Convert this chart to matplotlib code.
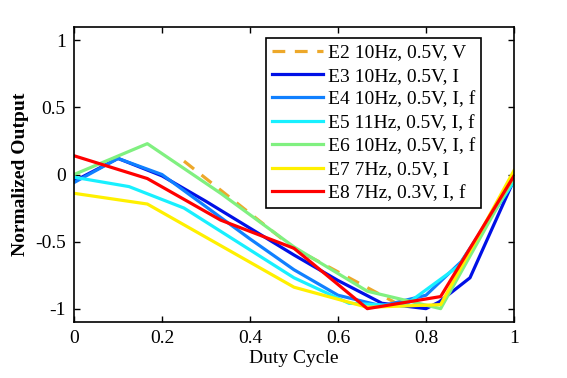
import matplotlib
matplotlib.use("Agg")
import matplotlib.pyplot as plt

plt.rcParams['font.family'] = ['Liberation Serif', 'DejaVu Serif']

# duty cycle samples and normalized outputs
x_e2 = [0.25, 0.5, 0.75]
y_e2 = [0.10, -0.55, -0.99]

x_e3 = [0, 0.1, 0.2, 0.3, 0.4, 0.5, 0.6, 0.7, 0.8, 0.83, 0.9, 1.0]
y_e3 = [-0.05, 0.12, -0.01, -0.2, -0.4, -0.6, -0.79, -0.96, -1.0, -0.95, -0.77, -0.04]

x_e4 = [0, 0.1, 0.2, 0.3, 0.4, 0.5, 0.6, 0.7, 0.8, 0.88, 1.0]
y_e4 = [-0.06, 0.12, 0.0, -0.24, -0.48, -0.71, -0.9, -0.98, -0.9, -0.65, -0.05]

x_e5 = [0, 0.125, 0.25, 0.375, 0.5, 0.625, 0.75, 0.875, 1.0]
y_e5 = [-0.02, -0.09, -0.25, -0.51, -0.77, -0.96, -0.98, -0.68, -0.05]

x_e6 = [0, 1/6, 1/3, 1/2, 2/3, 5/6, 1.0]
y_e6 = [0.0, 0.23, -0.14, -0.54, -0.87, -1.0, -0.02]

x_e7 = [0, 1/6, 1/3, 1/2, 2/3, 5/6, 1.0]
y_e7 = [-0.14, -0.22, -0.53, -0.84, -0.99, -0.97, 0.03]

x_e8 = [0, 1/6, 1/3, 1/2, 2/3, 5/6, 1.0]
y_e8 = [0.14, -0.03, -0.34, -0.55, -1.0, -0.91, -0.01]

labels = ['E2 10Hz, 0.5V, V', 'E3 10Hz, 0.5V, I', 'E4 10Hz, 0.5V, I, f',
          'E5 11Hz, 0.5V, I, f', 'E6 10Hz, 0.5V, I, f', 'E7 7Hz, 0.5V, I',
          'E8 7Hz, 0.3V, I, f']

fig = plt.figure(figsize=(5.67, 3.78), dpi=100)
ax = fig.add_axes([0.1305, 0.148, 0.776, 0.7806])

lw = 2.3
ax.plot(x_e2, y_e2, '--', color='#EDA82A', lw=lw, dashes=(4, 3), label=labels[0])
ax.plot(x_e3, y_e3, color='#0010E6', lw=lw, label=labels[1])
ax.plot(x_e4, y_e4, color='#1080FF', lw=lw, label=labels[2])
ax.plot(x_e5, y_e5, color='#18F0FF', lw=lw, label=labels[3])
ax.plot(x_e6, y_e6, color='#80F080', lw=lw, label=labels[4])
ax.plot(x_e7, y_e7, color='#FFF000', lw=lw, label=labels[5])
ax.plot(x_e8, y_e8, color='#FF0000', lw=lw, label=labels[6])

ax.set_xlim(0, 1)
ax.set_ylim(-1.1, 1.1)
ax.set_xticks([0, 0.2, 0.4, 0.6, 0.8, 1])
ax.set_xticklabels(['0', '0.2', '0.4', '0.6', '0.8', '1'])
ax.set_yticks([-1, -0.5, 0, 0.5, 1])
ax.set_yticklabels(['-1', '-0.5', '0', '0.5', '1'])
ax.tick_params(direction='in', top=True, right=True, labelsize=14, length=4, width=1, pad=6)
for s in ax.spines.values():
    s.set_linewidth(1.2)

ax.set_xlabel('Duty Cycle', fontsize=14, labelpad=2)
ax.set_ylabel('Normalized Output', fontsize=14, fontweight='bold', labelpad=4)

leg = ax.legend(loc='upper right', bbox_to_anchor=(0.926, 0.963), fontsize=14,
                fancybox=False, framealpha=1, edgecolor='black',
                handlelength=2.6, handletextpad=0.3, labelspacing=0.3,
                borderpad=0.3, borderaxespad=0)
leg.get_frame().set_linewidth(1.2)

fig.savefig('out.png', dpi=100)
